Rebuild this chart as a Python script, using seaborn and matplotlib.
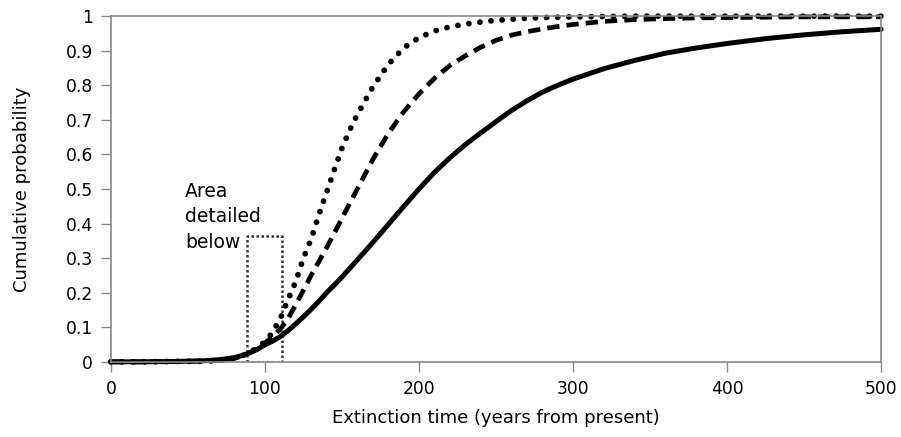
import matplotlib
matplotlib.use("Agg")
import matplotlib.pyplot as plt
import seaborn as sns
import pandas as pd

years = [0, 20, 40, 60, 70, 80, 85, 90, 95, 100, 105, 110, 115, 120, 125, 130,
         135, 140, 145, 150, 155, 160, 170, 180, 190, 200, 210, 220, 230, 240,
         250, 260, 270, 280, 290, 300, 320, 340, 360, 380, 400, 425, 450, 475, 500]
solid = [0.0, 0.0, 0.001, 0.003, 0.006, 0.012, 0.018, 0.026, 0.036, 0.049, 0.06,
         0.073, 0.09, 0.11, 0.13, 0.152, 0.175, 0.2, 0.222, 0.245, 0.27, 0.295,
         0.345, 0.397, 0.449, 0.5, 0.548, 0.59, 0.628, 0.662, 0.695, 0.727,
         0.755, 0.78, 0.8, 0.818, 0.848, 0.872, 0.893, 0.908, 0.921, 0.935,
         0.946, 0.955, 0.962]
dashed = [0.0, 0.0, 0.001, 0.002, 0.004, 0.01, 0.016, 0.025, 0.038, 0.055,
          0.072, 0.095, 0.125, 0.165, 0.207, 0.25, 0.29, 0.33, 0.372, 0.415,
          0.458, 0.5, 0.585, 0.66, 0.723, 0.775, 0.82, 0.857, 0.885, 0.91, 0.93,
          0.945, 0.955, 0.963, 0.97, 0.976, 0.985, 0.99, 0.993, 0.995, 0.996,
          0.997, 0.998, 0.998, 0.998]
dotted = [0.0, 0.0, 0.001, 0.002, 0.004, 0.01, 0.017, 0.027, 0.04, 0.058,
          0.085, 0.125, 0.18, 0.232, 0.3, 0.355, 0.425, 0.49, 0.555, 0.618,
          0.67, 0.715, 0.795, 0.86, 0.908, 0.938, 0.957, 0.969, 0.977, 0.983,
          0.988, 0.991, 0.994, 0.996, 0.997, 0.998, 0.999, 1.0, 1.0, 1.0, 1.0,
          1.0, 1.0, 1.0, 1.0]
box_x = [88.5, 88.5, 111, 111, 88.5]
box_y = [0.0, 0.364, 0.364, 0.0, 0.0]
annotation = "Area\ndetailed\nbelow"
x_ticks = [0, 100, 200, 300, 400, 500]
y_ticks = [0, 0.1, 0.2, 0.3, 0.4, 0.5, 0.6, 0.7, 0.8, 0.9, 1]
y_tick_labels = ["0", "0.1", "0.2", "0.3", "0.4", "0.5", "0.6", "0.7", "0.8", "0.9", "1"]

sns.set_style("white")
plt.rcParams['font.family'] = ['DejaVu Sans']
plt.rcParams['text.color'] = 'black'
plt.rcParams['axes.labelcolor'] = 'black'

df = pd.DataFrame({"x": years, "solid": solid, "dashed": dashed, "dotted": dotted})

fig = plt.figure(figsize=(9.01, 4.37), dpi=100)
ax = fig.add_axes([0.123, 0.172, 0.855, 0.791])

ax.plot(box_x, box_y, color="#333333", lw=1.8, linestyle=(0, (1, 1.0)))

sns.lineplot(data=df, x="x", y="solid", ax=ax, color="black", lw=3.6,
             solid_capstyle="round", clip_on=False)
sns.lineplot(data=df, x="x", y="dashed", ax=ax, color="black", lw=3.4,
             linestyle=(0, (2.6, 1.5)), clip_on=False)
sns.lineplot(data=df, x="x", y="dotted", ax=ax, color="black", lw=4.2,
             linestyle=(0, (0.01, 1.9)), clip_on=False)
ax.lines[-1].set_dash_capstyle("round")

ax.text(48, 0.52, annotation, fontsize=13.5, va="top", ha="left",
        linespacing=1.42, color="black")

ax.set_xlim(0, 500)
ax.set_ylim(0, 1)
ax.set_xticks(x_ticks)
ax.set_yticks(y_ticks)
ax.set_yticklabels(y_tick_labels)
ax.tick_params(axis="both", which="both", direction="out", length=7, width=1,
               color="#888888", labelcolor="black", labelsize=12.3, pad=6,
               bottom=True, left=True)
for s in ax.spines.values():
    s.set_color("#888888")
    s.set_linewidth(1.2)

ax.set_xlabel("Extinction time (years from present)", fontsize=13, color="black")
ax.set_ylabel("Cumulative probability", fontsize=13, color="black")
ax.xaxis.set_label_coords(0.5, -0.136)
ax.yaxis.set_label_coords(-0.104, 0.5)

fig.savefig("out.png", dpi=100)
